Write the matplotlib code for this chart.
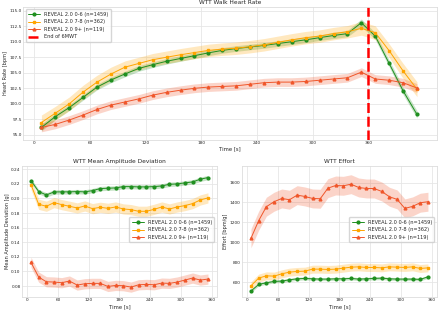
import numpy as np
import matplotlib
matplotlib.use('Agg')
import matplotlib.pyplot as plt
import seaborn as sns

sns.set_style('whitegrid')
plt.rcParams['font.family'] = ['DejaVu Sans']

# Time points
t_hr = [7.5, 22.5, 37.5, 52.5, 67.5, 82.5, 97.5, 112.5, 127.5, 142.5, 157.5, 172.5,
        187.5, 202.5, 217.5, 232.5, 247.5, 262.5, 277.5, 292.5, 307.5, 322.5, 337.5,
        352.5, 367.5, 382.5, 397.5, 412.5]
t_walk = t_hr[:24]

labels = ['REVEAL 2.0 0-6 (n=1459)', 'REVEAL 2.0 7-8 (n=362)', 'REVEAL 2.0 9+ (n=119)']
colors = ['#1f8f1f', '#ffa500', '#f0562a']
markers = ['o', 's', '^']

# Heart rate
hr_green = [96.2, 97.95, 99.4, 101.05, 102.7, 103.85, 104.8, 105.7, 106.3, 106.85, 107.3, 107.75,
            108.2, 108.6, 108.9, 109.15, 109.4, 109.7, 110.0, 110.3, 110.65, 111.0, 111.3,
            113.05, 110.9, 106.5, 102.1, 98.3]
hr_orange = [97.0, 98.5, 100.0, 101.9, 103.5, 104.8, 105.9, 106.5, 107.1, 107.5, 107.9, 108.25,
             108.6, 108.8, 108.95, 109.2, 109.5, 109.9, 110.3, 110.65, 110.9, 111.3, 111.6,
             112.15, 111.45, 108.55, 105.3, 102.35]
hr_red = [96.2, 96.7, 97.4, 98.2, 99.1, 99.8, 100.3, 100.8, 101.4, 101.85, 102.2, 102.5,
          102.7, 102.8, 102.9, 103.15, 103.4, 103.5, 103.5, 103.6, 103.8, 104.0, 104.2,
          105.1, 104.0, 103.8, 103.4, 102.55]
hr_err = [[0.55, 0.5, 0.45, 0.45, 0.45, 0.45, 0.45, 0.45, 0.45, 0.45, 0.45, 0.45, 0.45, 0.45,
           0.45, 0.45, 0.45, 0.45, 0.45, 0.45, 0.45, 0.5, 0.5, 0.6, 0.55, 0.55, 0.6, 0.6],
          [1.2, 1.1, 1.1, 1.1, 1.1, 1.1, 1.0, 1.0, 1.0, 1.0, 1.0, 1.0, 1.0, 1.0, 1.0, 1.0, 1.0,
           1.0, 1.0, 1.0, 1.0, 1.0, 1.0, 1.1, 1.1, 1.1, 1.2, 1.2],
          [0.7, 0.7, 0.7, 0.7, 0.7, 0.7, 0.7, 0.7, 0.7, 0.7, 0.7, 0.7, 0.7, 0.7, 0.7, 0.7, 0.7,
           0.7, 0.7, 0.7, 0.7, 0.7, 0.7, 0.7, 0.7, 0.7, 0.7, 0.7]]

# Mean amplitude deviation
mad_green = [0.2245, 0.2094, 0.2048, 0.2089, 0.209, 0.209, 0.2094, 0.209, 0.2107, 0.2135, 0.214,
             0.2144, 0.2162, 0.2162, 0.2158, 0.2158, 0.2162, 0.2171, 0.2194, 0.2199, 0.2213,
             0.2226, 0.2263, 0.2286]
mad_orange = [0.219, 0.192, 0.1893, 0.1943, 0.1915, 0.1893, 0.187, 0.1897, 0.186, 0.1879, 0.1865,
              0.1883, 0.1856, 0.1847, 0.1824, 0.1824, 0.1851, 0.1883, 0.1856, 0.1883, 0.1902,
              0.1929, 0.1979, 0.2007]
mad_red = [0.1125, 0.0923, 0.0859, 0.0855, 0.0846, 0.0869, 0.0814, 0.0832, 0.0837, 0.0837, 0.0795,
           0.0809, 0.0805, 0.0786, 0.0818, 0.0823, 0.0818, 0.0841, 0.0837, 0.0855, 0.0882,
           0.091, 0.0882, 0.0896]
mad_err = [0.003, 0.007, 0.007]

# Effort
eff_green = [510, 577, 593, 607, 610, 623, 633, 637, 633, 630, 630, 633, 633, 637, 630, 633, 637,
             640, 633, 630, 630, 630, 627, 653]
eff_orange = [563, 640, 663, 660, 683, 700, 707, 710, 730, 730, 727, 730, 740, 750, 753, 747, 747,
              743, 753, 750, 747, 753, 737, 743]
eff_red = [1040, 1217, 1357, 1407, 1440, 1427, 1473, 1460, 1440, 1437, 1543, 1570, 1567, 1583,
           1550, 1540, 1540, 1510, 1457, 1430, 1340, 1360, 1397, 1407]
eff_err = [15, 40, 95]

fig = plt.figure(figsize=(4.4, 3.13), dpi=100)
ax1 = fig.add_axes([0.053, 0.553, 0.94, 0.425])
ax2 = fig.add_axes([0.05, 0.051, 0.443, 0.42])
ax3 = fig.add_axes([0.55, 0.051, 0.443, 0.42])


def draw(ax, t, series, errs):
    for y, e, c, m, lab in zip(series, errs, colors, markers, labels):
        y = np.array(y)
        e = np.array(e) if np.ndim(e) else np.full(len(y), e)
        ax.fill_between(t, y - e, y + e, color=c, alpha=0.25, linewidth=0)
        ax.plot(t, y, color=c, marker=m, markersize=2, linewidth=0.7, label=lab)


def style(ax, title, ylabel):
    ax.set_title(title, fontsize=4.2, pad=2)
    ax.set_xlabel('Time [s]', fontsize=3.8, labelpad=1)
    ax.set_ylabel(ylabel, fontsize=3.6, labelpad=1)
    ax.tick_params(labelsize=3.1, pad=1, length=0)
    ax.grid(color='#e6e6e6', linewidth=0.6)
    for s in ax.spines.values():
        s.set_color('#dddddd')
        s.set_linewidth(0.6)


leg_kw = dict(fontsize=3.6, frameon=True, borderpad=0.5, labelspacing=0.5, handlelength=2.4)

draw(ax1, t_hr, [hr_green, hr_orange, hr_red], hr_err)
ax1.axvline(360, color='red', linestyle='--', linewidth=1.8, dashes=(4, 1.5), label='End of 6MWT')
ax1.set_xlim(-12, 434)
ax1.set_ylim(94.2, 115.6)
ax1.set_xticks([0, 60, 120, 180, 240, 300, 360])
ax1.set_yticks([95.0, 97.5, 100.0, 102.5, 105.0, 107.5, 110.0, 112.5, 115.0])
style(ax1, 'WTT Walk Heart Rate', 'Heart Rate [bpm]')
ax1.legend(loc='upper left', **leg_kw)

draw(ax2, t_walk, [mad_green, mad_orange, mad_red], mad_err)
ax2.set_xlim(-10, 370)
ax2.set_ylim(0.065, 0.245)
ax2.set_xticks([0, 60, 120, 180, 240, 300, 360])
ax2.set_yticks([0.08, 0.10, 0.12, 0.14, 0.16, 0.18, 0.20, 0.22, 0.24])
style(ax2, 'WTT Mean Amplitude Deviation', 'Mean Amplitude Deviation [g]')
ax2.legend(loc='center right', bbox_to_anchor=(1.0, 0.51), **leg_kw)

draw(ax3, t_walk, [eff_green, eff_orange, eff_red], eff_err)
ax3.set_xlim(-10, 370)
ax3.set_ylim(450, 1770)
ax3.set_xticks([0, 60, 120, 180, 240, 300, 360])
ax3.set_yticks([600, 800, 1000, 1200, 1400, 1600])
style(ax3, 'WTT Effort', 'Effort [bpm/g]')
ax3.legend(loc='center right', bbox_to_anchor=(1.0, 0.51), **leg_kw)

fig.savefig('out.png', dpi=100)
